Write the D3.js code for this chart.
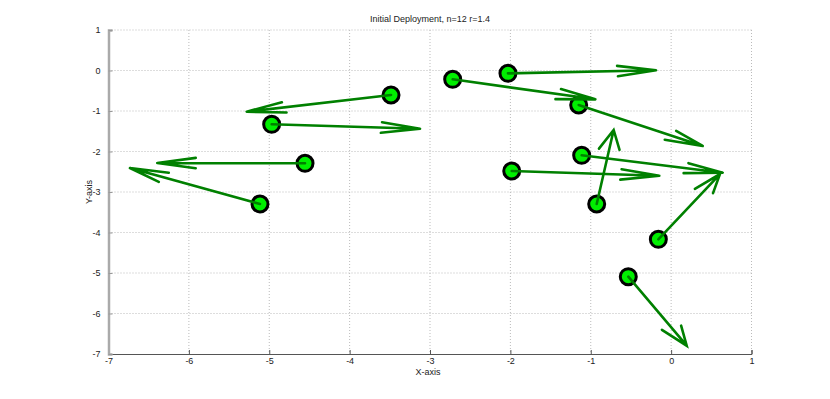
<!DOCTYPE html>
<html>
<head>
<meta charset="utf-8">
<script src="https://cdn.jsdelivr.net/npm/d3@7"></script>
<style>
  body { margin: 0; background: #fff; }
  text { font-family: "Liberation Sans", Arial, sans-serif; fill: #222; }
</style>
</head>
<body>
<svg id="chart"></svg>
<script>
const width = 830, height = 399;
const plotL = 108.5, plotR = 751.5, plotT = 30, plotB = 354;

// start points of each node and its displacement vector
const xs = [-3.485, -4.970, -4.555, -5.115, -2.718, -2.030, -1.150, -1.113, -1.983, -0.926, -0.159, -0.533];
const ys = [-0.605, -1.329, -2.291, -3.296, -0.218, -0.070, -0.852, -2.094, -2.481, -3.296, -4.168, -5.091];
const us = [-1.796, 1.846, -1.838, -1.618, 1.775, 1.842, 1.543, 1.755, 1.836, 0.211, 0.767, 0.727];
const vs = [-0.412, -0.108, 0.007, 0.889, -0.494, 0.075, -1.012, -0.429, -0.116, 1.827, 1.612, -1.704];
const xTicks = [-7, -6, -5, -4, -3, -2, -1, 0, 1];
const yTicks = [1, 0, -1, -2, -3, -4, -5, -6, -7];

const nodes = xs.map((x, i) => ({x: x, y: ys[i], u: us[i], v: vs[i]}));

const xScale = d3.scaleLinear().domain([-7, 1]).range([plotL, plotR]);
const yScale = d3.scaleLinear().domain([-7, 1]).range([plotB, plotT]);

const svg = d3.select('#chart')
    .attr('width', width)
    .attr('height', height);

// dotted grid
svg.append('g').selectAll('line')
    .data(xTicks.filter(d => d !== -7))
    .enter().append('line')
    .attr('x1', d => xScale(d)).attr('x2', d => xScale(d))
    .attr('y1', plotT).attr('y2', plotB)
    .attr('stroke', '#bbb').attr('stroke-dasharray', '1,2');
svg.append('g').selectAll('line')
    .data(yTicks.filter(d => d !== -7))
    .enter().append('line')
    .attr('x1', plotL).attr('x2', plotR)
    .attr('y1', d => yScale(d)).attr('y2', d => yScale(d))
    .attr('stroke', '#bbb').attr('stroke-dasharray', '1,2');

// axes, ticks pointing inward, plain hyphen minus like the original
const fmt = d => String(d);
const xAxis = d3.axisBottom(xScale).tickValues(xTicks).tickFormat(fmt).tickSize(-4).tickPadding(4);
const yAxis = d3.axisLeft(yScale).tickValues(yTicks).tickFormat(fmt).tickSize(-4).tickPadding(8);

const gx = svg.append('g')
    .attr('transform', `translate(0, ${plotB})`)
    .call(xAxis);
gx.select('.domain').attr('stroke', '#555');
gx.selectAll('.tick line').attr('stroke', '#555');
gx.selectAll('text').style('font-size', '9px').attr('fill', '#222');

const gy = svg.append('g')
    .attr('transform', `translate(${plotL}, 0)`)
    .call(yAxis);
gy.select('.domain').attr('stroke', '#aaa').attr('stroke-width', 2.5);
gy.selectAll('.tick line').attr('stroke', '#999');
gy.selectAll('text').style('font-size', '9px').attr('fill', '#222');

// nodes
svg.append('g').selectAll('circle')
    .data(nodes)
    .enter().append('circle')
    .attr('cx', d => xScale(d.x))
    .attr('cy', d => yScale(d.y))
    .attr('r', 8)
    .attr('fill', '#00ee00')
    .attr('stroke', '#000')
    .attr('stroke-width', 3);

// quiver arrows (head built in data units like octave does)
const headBack = 0.26, headSide = 0.07;
const arrows = svg.append('g')
    .attr('stroke', '#008000')
    .attr('stroke-width', 2.6)
    .attr('fill', 'none')
    .attr('stroke-linecap', 'round');

arrows.selectAll('path')
    .data(nodes)
    .enter().append('path')
    .attr('d', function (d) {
        const xe = d.x + d.u, ye = d.y + d.v;
        const xt = d.x + d.u * (1 - headBack), yt = d.y + d.v * (1 - headBack);
        const p = d3.path();
        p.moveTo(xScale(d.x), yScale(d.y));
        p.lineTo(xScale(xe), yScale(ye));
        p.moveTo(xScale(xt - d.v * headSide), yScale(yt + d.u * headSide));
        p.lineTo(xScale(xe), yScale(ye));
        p.lineTo(xScale(xt + d.v * headSide), yScale(yt - d.u * headSide));
        return p.toString();
    });

// labels
svg.append('text')
    .attr('x', (plotL + plotR) / 2).attr('y', 22)
    .attr('text-anchor', 'middle')
    .style('font-size', '9px')
    .text('Initial Deployment, n=12 r=1.4');

svg.append('text')
    .attr('x', 428).attr('y', 375)
    .attr('text-anchor', 'middle')
    .style('font-size', '9px')
    .text('X-axis');

svg.append('text')
    .attr('transform', `translate(92, ${(plotT + plotB) / 2}) rotate(-90)`)
    .attr('text-anchor', 'middle')
    .style('font-size', '9px')
    .text('Y-axis');
</script>
</body>
</html>
